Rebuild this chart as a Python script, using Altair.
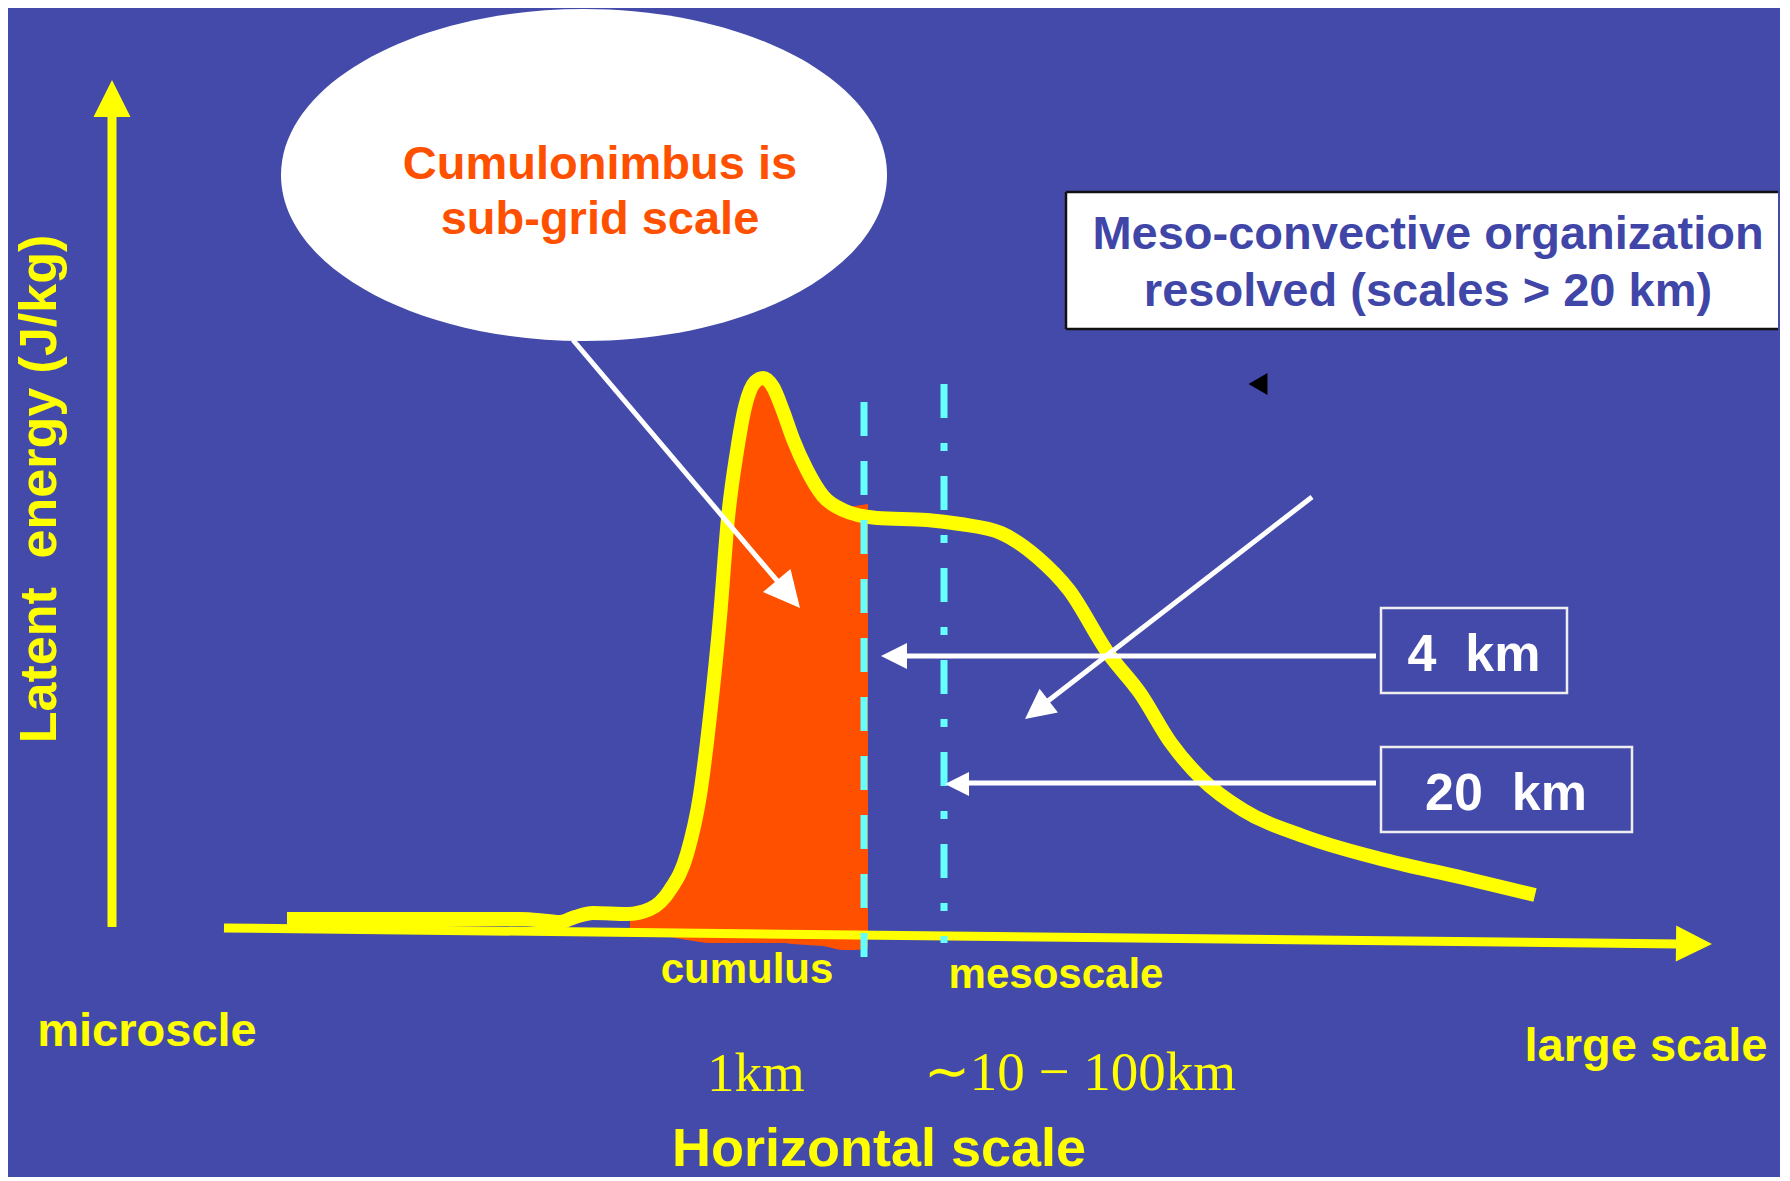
import altair as alt
import pandas as pd

# ---------------- data (diagram coordinates) ----------------
# yellow latent-energy curve
curve_x = [287, 400, 520, 548, 560, 575, 593, 627, 650, 670, 687, 700, 710, 720, 728,
           737, 745, 755, 763, 773, 783, 793, 807, 823, 843, 877, 927, 960, 1001, 1037,
           1069, 1108, 1140, 1171, 1203, 1243, 1306, 1385, 1464, 1535]
curve_y = [919, 919, 919, 921, 922, 917, 913, 914, 909, 890, 854, 795, 716, 617, 518,
           451, 407, 382, 378, 387, 411, 439, 470, 496, 510, 518, 520, 524, 533, 557,
           590, 653, 693, 743, 780, 810, 837, 860, 878, 895]

# orange (sub-grid cumulonimbus) region
fill_x = [630, 650, 670, 687, 700, 710, 720, 728, 737, 745, 755, 763, 773, 783, 793,
          807, 823, 843, 855, 868]
fill_top = [917, 909, 890, 854, 795, 716, 617, 518, 451, 407, 382, 378, 387, 411, 439,
            470, 496, 508, 506, 504]
fill_bottom = [932, 935, 937, 940, 942, 943, 943, 943, 943, 943, 943, 943, 943, 943, 944,
               945, 946, 950, 950, 948]

# axes lines
axis_x1 = [224, 112]
axis_y1 = [928, 927]
axis_x2 = [1680, 112]
axis_y2 = [944, 112]

# cyan grid-scale markers (4 km dashed, 20 km dash-dot)
grid4_x = [864]
grid4_y = [402]
grid4_y2 = [957]
grid20_x = [944]
grid20_y = [384]
grid20_y2 = [943]

# white arrow shafts
shaft_x1 = [573, 1312, 1376, 1376]
shaft_y1 = [340, 497, 656, 783]
shaft_x2 = [790, 1035, 895, 955]
shaft_y2 = [596, 711, 656, 783]

# arrow heads (tip position, direction, size, colour)
head_x = [800, 1025, 881, 945, 112, 1712]
head_y = [608, 719, 656, 784, 80, 944]
head_angle = [139.8, 232.3, 270, 270, 0, 90.6]
head_size = [5184, 3600, 2704, 2304, 5476, 5184]
head_color = ["#FFFFFF", "#FFFFFF", "#FFFFFF", "#FFFFFF", "#FFFF00", "#FFFF00"]

# white panel of the meso-convective note (runs off the right edge)
panel_x = [1066]
panel_x2 = [1778]
panel_y = [192]
panel_y2 = [329]
# its black border (top, bottom, left side)
pborder_x = [1066, 1066, 1066]
pborder_x2 = [1778, 1778, 1066]
pborder_y = [192, 329, 192]
pborder_y2 = [192, 329, 329]

# outlined km boxes
box_x = [1381, 1381]
box_x2 = [1567, 1632]
box_y = [608, 747]
box_y2 = [693, 832]

# callout ellipse
ell_x = [584]
ell_y = [175]

# bold sans labels
lab_text = ["Cumulonimbus is", "sub-grid scale",
            "Meso-convective organization", "resolved (scales > 20 km)",
            "4\u00a0\u00a0km", "20\u00a0\u00a0km",
            "cumulus", "mesoscale", "microscle", "large scale", "Horizontal scale"]
lab_x = [600, 600, 1428, 1428, 1474, 1506, 747, 1056, 147, 1646, 879]
lab_y = [179, 234, 249, 306, 671, 810, 983, 988, 1046, 1061, 1166]
lab_color = ["#FF5000", "#FF5000", "#4046A8", "#4046A8", "#FFFFFF", "#FFFFFF",
             "#FFFF00", "#FFFF00", "#FFFF00", "#FFFF00", "#FFFF00"]
lab_size = [47, 47, 47, 47, 52, 52, 42, 42, 47, 47, 54]

# serif scale labels
serif_text = ["1km", "\u223c10 \u2212 100km"]
serif_x = [756, 1080]
serif_y = [1091, 1090]

# rotated y label
ylab_text = ["Latent\u00a0\u00a0energy (J/kg)"]
ylab_x = [56]
ylab_y = [489]

# small black marker
mark_x = [1258]
mark_y = [384]

# ---------------- chart ----------------
BG = "#444AAA"
YEL = "#FFFF00"
xs = alt.Scale(domain=[8, 1778], nice=False, zero=False)
ys = alt.Scale(domain=[8, 1168], nice=False, zero=False, reverse=True)


def X(f="x"):
    return alt.X(f"{f}:Q", scale=xs, axis=None)


def Y(f="y"):
    return alt.Y(f"{f}:Q", scale=ys, axis=None)


ELLIPSE = ("M1,0 C1,0.3027 0.5523,0.548 0,0.548 C-0.5523,0.548 -1,0.3027 -1,0 "
           "C-1,-0.3027 -0.5523,-0.548 0,-0.548 C0.5523,-0.548 1,-0.3027 1,0 Z")
ARROW = "M0,0 L0.5,1 L-0.5,1 Z"

ellipse = alt.Chart(pd.DataFrame({"x": ell_x, "y": ell_y})).mark_point(
    shape=ELLIPSE, filled=True, color="#FFFFFF", opacity=1, size=367236, strokeWidth=0
).encode(x=X(), y=Y())

panel = alt.Chart(pd.DataFrame({"x": panel_x, "x2": panel_x2, "y": panel_y, "y2": panel_y2})).mark_rect(
    color="#FFFFFF", strokeWidth=0
).encode(x=X(), x2="x2:Q", y=Y(), y2="y2:Q")

pborder = alt.Chart(pd.DataFrame({"x": pborder_x, "x2": pborder_x2,
                                  "y": pborder_y, "y2": pborder_y2})).mark_rule(
    color="#111111", strokeWidth=2.5
).encode(x=X(), x2="x2:Q", y=Y(), y2="y2:Q")

boxes = alt.Chart(pd.DataFrame({"x": box_x, "x2": box_x2, "y": box_y, "y2": box_y2})).mark_rect(
    fill="transparent", stroke="#EEEEEE", strokeWidth=2.5
).encode(x=X(), x2="x2:Q", y=Y(), y2="y2:Q")

orange = alt.Chart(pd.DataFrame({"x": fill_x, "top": fill_top, "bottom": fill_bottom})).mark_area(
    interpolate="monotone", color="#FF5000", orient="vertical"
).encode(x=X(), y=Y("top"), y2="bottom:Q")

axes = alt.Chart(pd.DataFrame({"x": axis_x1, "y": axis_y1, "x2": axis_x2, "y2": axis_y2})).mark_rule(
    color=YEL, strokeWidth=9
).encode(x=X(), y=Y(), x2="x2:Q", y2="y2:Q")

curve = alt.Chart(pd.DataFrame({"x": curve_x, "y": curve_y})).mark_line(
    interpolate="monotone", color=YEL, strokeWidth=14, strokeCap="butt"
).encode(x=X(), y=Y())

grid4 = alt.Chart(pd.DataFrame({"x": grid4_x, "y": grid4_y, "y2": grid4_y2})).mark_rule(
    color="#66FFFF", strokeWidth=7, strokeDash=[34, 25]
).encode(x=X(), y=Y(), y2="y2:Q")

grid20 = alt.Chart(pd.DataFrame({"x": grid20_x, "y": grid20_y, "y2": grid20_y2})).mark_rule(
    color="#66FFFF", strokeWidth=7, strokeDash=[34, 25, 8, 25]
).encode(x=X(), y=Y(), y2="y2:Q")

shafts = alt.Chart(pd.DataFrame({"x": shaft_x1, "y": shaft_y1, "x2": shaft_x2, "y2": shaft_y2})).mark_rule(
    color="#FFFFFF", strokeWidth=5
).encode(x=X(), y=Y(), x2="x2:Q", y2="y2:Q")

heads = alt.Chart(pd.DataFrame({"x": head_x, "y": head_y, "angle": head_angle,
                                "size": head_size, "color": head_color})).mark_point(
    shape=ARROW, filled=True, opacity=1, strokeWidth=0
).encode(x=X(), y=Y(), angle=alt.Angle("angle:Q", scale=None),
         size=alt.Size("size:Q", scale=None), color=alt.Color("color:N", scale=None))

marker = alt.Chart(pd.DataFrame({"x": mark_x, "y": mark_y})).mark_point(
    shape="triangle-left", filled=True, color="#000000", opacity=1, size=484, strokeWidth=0
).encode(x=X(), y=Y())

labels = alt.Chart(pd.DataFrame({"x": lab_x, "y": lab_y, "label": lab_text,
                                 "color": lab_color, "size": lab_size})).mark_text(
    align="center", baseline="alphabetic", font="Liberation Sans", fontWeight="bold"
).encode(x=X(), y=Y(), text="label:N", color=alt.Color("color:N", scale=None),
         size=alt.Size("size:Q", scale=None))

serif = alt.Chart(pd.DataFrame({"x": serif_x, "y": serif_y, "label": serif_text})).mark_text(
    align="center", baseline="alphabetic", font="Liberation Serif", fontSize=55, color=YEL
).encode(x=X(), y=Y(), text="label:N")

ylab = alt.Chart(pd.DataFrame({"x": ylab_x, "y": ylab_y, "label": ylab_text})).mark_text(
    align="center", baseline="alphabetic", font="Liberation Sans", fontWeight="bold",
    fontSize=52, color=YEL, angle=270
).encode(x=X(), y=Y(), text="label:N")

chart = alt.layer(
    ellipse, panel, pborder, boxes, orange, axes, curve, grid4, grid20, shafts, heads,
    marker, labels, serif, ylab
).properties(
    width=1770, height=1160, padding=0, background=BG
).configure_view(stroke=None)

chart.save("out.html", embed_options={"renderer": "svg", "actions": False})
